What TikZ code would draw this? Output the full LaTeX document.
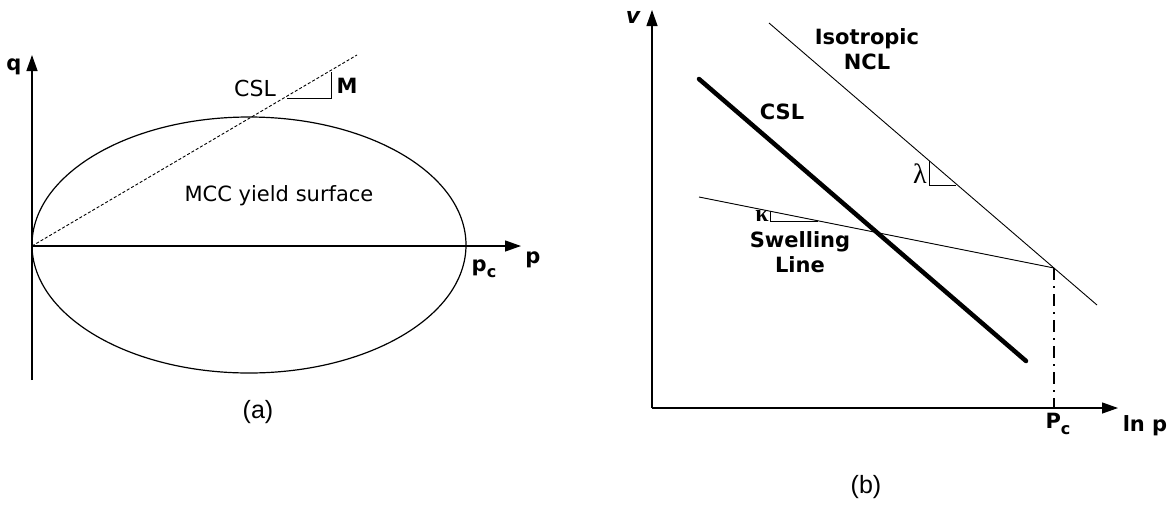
\documentclass[tikz,border=0pt]{standalone}
\usepackage{fontspec}
\setmainfont{DejaVu Sans}
\newfontfamily\capfont{Liberation Sans}
\newfontfamily\grkfont{Liberation Serif}
\usetikzlibrary{arrows.meta}

\tikzset{
  axis/.style={line width=1.3pt,-{Triangle[length=16pt,width=11pt]}},
  thinline/.style={line width=0.9pt},
  blbl/.style={font=\fontsize{21}{25}\selectfont\bfseries,align=center},
  rlbl/.style={font=\fontsize{21}{25}\selectfont},
  caplbl/.style={font=\capfont\fontsize{25}{28}\selectfont}
}

\begin{document}
\begin{tikzpicture}[x=1pt,y=-1pt]

\useasboundingbox (0,0) rectangle (1176,504);

% (a) yield surface in p-q space
\coordinate (Oa) at (32,246);
\coordinate (qbot) at (32,380);
\coordinate (qtop) at (32,55);
\coordinate (pend) at (521,246);
\coordinate (cslend) at (357,55);

\draw[axis] (qbot) -- (qtop);
\draw[axis] (Oa) -- (pend);
\draw[line width=1.2pt] (249,245) ellipse [x radius=217, y radius=128];
\draw[thinline,dash pattern=on 3pt off 2pt] (Oa) -- (cslend);

\coordinate (Ma) at (287,98);
\coordinate (Mb) at (331,98);
\coordinate (Mc) at (331,72);
\draw[thinline] (Ma) -- (Mb) -- (Mc);

\node[blbl] (qlab) at (14,67) {q};
\node[blbl] (plab) at (533,260) {p};
\node[blbl] (pclab) at (484,269) {p\raisebox{-6pt}{\fontsize{16}{18}\selectfont c}};
\node[rlbl,font=\fontsize{22}{25}\selectfont] (csla) at (255,88) {CSL};
\node[blbl] (Mlab) at (347,86) {M};
\node[rlbl] (mcc) at (279,196) {MCC yield surface};
\node[caplbl] (capa) at (258,412) {(a)};

% (b) compression lines in ln p - v space
\coordinate (Ob) at (652,408);
\coordinate (vtop) at (652,10);
\coordinate (lnend) at (1118,408);
\coordinate (nclA) at (769,23);
\coordinate (nclB) at (1097,305);
\coordinate (cslA) at (699,79);
\coordinate (cslB) at (1026,361);
\coordinate (swA) at (699,197);
\coordinate (Pc) at (1054,268);
\coordinate (Pcax) at (1054,408);

\draw[axis] (Ob) -- (vtop);
\draw[axis] (Ob) -- (lnend);
\draw[thinline] (nclA) -- (nclB);
\draw[line width=4.5pt,line cap=round] (cslA) -- (cslB);
\draw[thinline] (swA) -- (Pc);
\draw[line width=1.8pt,dash pattern=on 12pt off 6pt on 2pt off 6pt] (Pc) -- (Pcax);

\coordinate (La) at (929,161);
\coordinate (Lb) at (929,185);
\coordinate (Lc) at (956,185);
\draw[thinline] (La) -- (Lb) -- (Lc);

\coordinate (Ka) at (770,211);
\coordinate (Kb) at (770,221);
\coordinate (Kc) at (818,221);
\draw[thinline] (Ka) -- (Kb) -- (Kc);

\node[blbl,font=\fontsize{22}{25}\selectfont\bfseries\itshape] (vlab) at (633,17) {v};
\node[blbl] (ncl) at (867,49) {Isotropic\\NCL};
\node[blbl] (cslb) at (782,112) {CSL};
\node[font=\grkfont\fontsize{28}{30}\selectfont] (lam) at (920,174) {λ};
\node[font=\grkfont\fontsize{24}{26}\selectfont\bfseries] (kap) at (762,216) {κ};
\node[blbl] (swell) at (800,252) {Swelling\\Line};
\node[blbl] (Pclab) at (1058,424) {P\raisebox{-6pt}{\fontsize{16}{18}\selectfont c}};
\node[blbl] (lnp) at (1145,426) {ln p};
\node[caplbl] (capb) at (866,487) {(b)};

\end{tikzpicture}
\end{document}
